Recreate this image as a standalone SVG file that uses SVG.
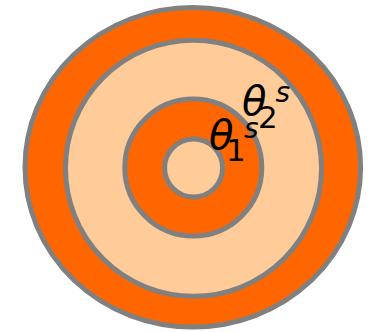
<svg xmlns="http://www.w3.org/2000/svg" width="370" height="332" viewBox="0 0 370 332">
<style>
.ring{stroke:#808080;stroke-width:5}
.dark{fill:#FF6600}
.light{fill:#FFCC99}
.lbl{font-family:"DejaVu Sans",sans-serif;fill:#000}
.it{font-style:italic}
</style>
<rect width="370" height="332" fill="#ffffff"/>
<g id="ring-outer"><ellipse class="ring dark" cx="192.8" cy="167.3" rx="167.8" ry="159.8"/></g>
<g id="ring-2"><circle class="ring light" cx="193.5" cy="168.3" r="128"/></g>
<g id="ring-3"><circle class="ring dark" cx="193.3" cy="167.6" r="68.5"/></g>
<g id="ring-inner"><circle class="ring light" cx="193.6" cy="168" r="29"/></g>
<g id="label-theta1">
<text class="lbl it" x="209" y="148.5" font-size="40">θ</text>
<text class="lbl" x="226" y="161" font-size="31">1</text>
<text class="lbl it" x="244" y="138" font-size="28">s</text>
</g>
<g id="label-theta2">
<text class="lbl it" x="242" y="115" font-size="40">θ</text>
<text class="lbl" x="258" y="128" font-size="31">2</text>
<text class="lbl it" x="275.5" y="102" font-size="28">s</text>
</g>
</svg>
